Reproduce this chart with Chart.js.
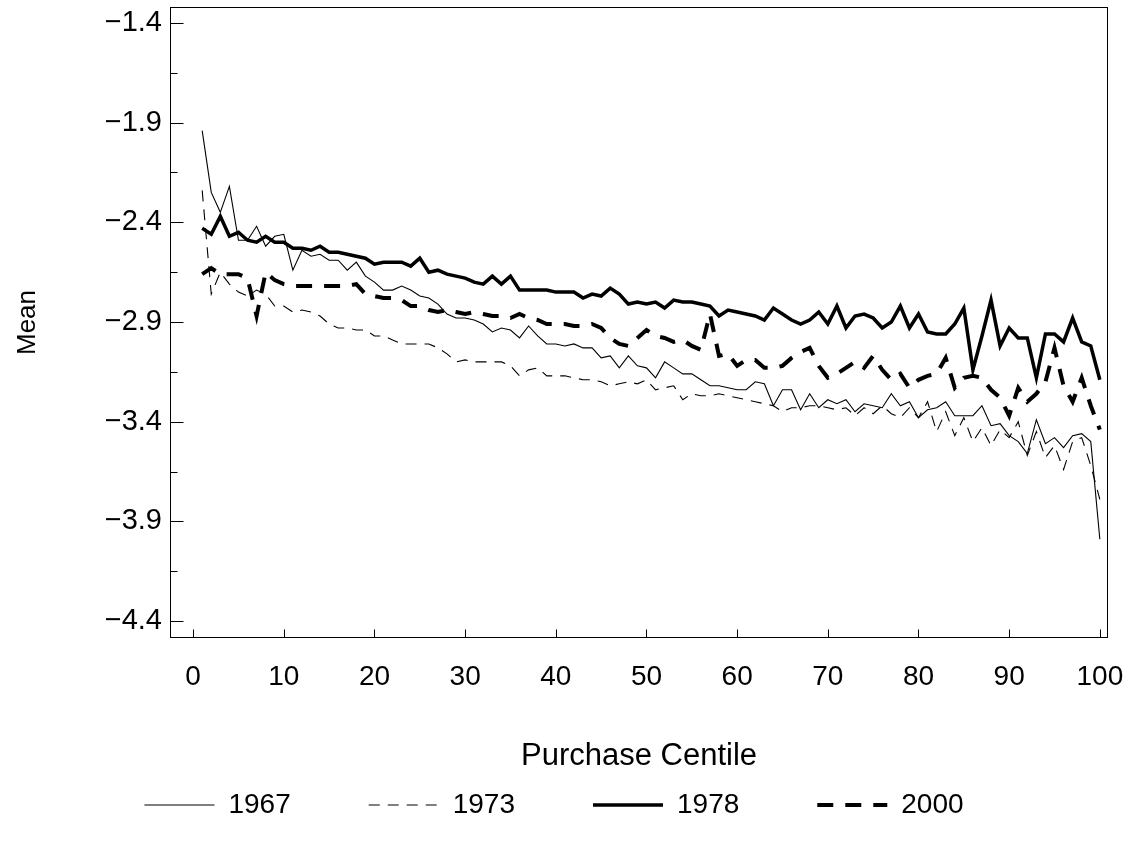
<!DOCTYPE html>
<html><head><meta charset="utf-8">
<script src="https://cdn.jsdelivr.net/npm/chart.js@4/dist/chart.umd.min.js"></script>
<style>html,body{margin:0;padding:0;background:#fff}#wrap{width:1130px;height:849px}</style>
</head><body><div id="wrap"><canvas id="c" width="1130" height="849"></canvas></div>
<script>
const centiles = [1,2,3,4,5,6,7,8,9,10,11,12,13,14,15,16,17,18,19,20,21,22,23,24,25,26,27,28,29,30,31,32,33,34,35,36,37,38,39,40,41,42,43,44,45,46,47,48,49,50,51,52,53,54,55,56,57,58,59,60,61,62,63,64,65,66,67,68,69,70,71,72,73,74,75,76,77,78,79,80,81,82,83,84,85,86,87,88,89,90,91,92,93,94,95,96,97,98,99,100];

const mean1967 = [-1.94,-2.25,-2.35,-2.22,-2.49,-2.49,-2.42,-2.52,-2.47,-2.46,
-2.64,-2.54,-2.57,-2.56,-2.59,-2.59,-2.64,-2.60,-2.67,-2.70,
-2.74,-2.74,-2.72,-2.74,-2.77,-2.78,-2.81,-2.86,-2.88,-2.88,
-2.89,-2.91,-2.95,-2.93,-2.94,-2.98,-2.92,-2.97,-3.01,-3.01,
-3.02,-3.01,-3.03,-3.03,-3.08,-3.07,-3.13,-3.07,-3.12,-3.13,
-3.18,-3.10,-3.13,-3.16,-3.16,-3.19,-3.22,-3.22,-3.23,-3.24,
-3.24,-3.20,-3.21,-3.32,-3.24,-3.24,-3.34,-3.26,-3.33,-3.29,
-3.31,-3.29,-3.35,-3.31,-3.32,-3.33,-3.26,-3.32,-3.30,-3.38,
-3.34,-3.33,-3.30,-3.37,-3.37,-3.37,-3.32,-3.42,-3.41,-3.47,
-3.50,-3.56,-3.39,-3.51,-3.48,-3.53,-3.47,-3.46,-3.50,-3.99];

const mean1973 = [-2.24,-2.76,-2.65,-2.71,-2.75,-2.77,-2.74,-2.76,-2.82,-2.82,
-2.85,-2.84,-2.85,-2.87,-2.91,-2.93,-2.93,-2.94,-2.94,-2.97,
-2.97,-2.99,-3.01,-3.01,-3.01,-3.01,-3.03,-3.06,-3.10,-3.09,
-3.10,-3.10,-3.10,-3.10,-3.12,-3.17,-3.14,-3.13,-3.17,-3.17,
-3.17,-3.18,-3.19,-3.19,-3.20,-3.22,-3.21,-3.20,-3.21,-3.19,
-3.24,-3.23,-3.22,-3.29,-3.26,-3.27,-3.27,-3.26,-3.27,-3.28,
-3.29,-3.30,-3.31,-3.32,-3.35,-3.33,-3.33,-3.32,-3.32,-3.33,
-3.34,-3.33,-3.37,-3.33,-3.36,-3.32,-3.36,-3.38,-3.33,-3.38,
-3.30,-3.45,-3.35,-3.47,-3.38,-3.50,-3.43,-3.52,-3.44,-3.48,
-3.40,-3.57,-3.45,-3.58,-3.52,-3.64,-3.50,-3.48,-3.62,-3.79];

const mean1978 = [-2.43,-2.46,-2.37,-2.47,-2.45,-2.49,-2.50,-2.47,-2.50,-2.50,
-2.53,-2.53,-2.54,-2.52,-2.55,-2.55,-2.56,-2.57,-2.58,-2.61,
-2.60,-2.60,-2.60,-2.62,-2.58,-2.65,-2.64,-2.66,-2.67,-2.68,
-2.70,-2.71,-2.67,-2.71,-2.67,-2.74,-2.74,-2.74,-2.74,-2.75,
-2.75,-2.75,-2.78,-2.76,-2.77,-2.73,-2.76,-2.81,-2.80,-2.81,
-2.80,-2.83,-2.79,-2.80,-2.80,-2.81,-2.82,-2.87,-2.84,-2.85,
-2.86,-2.87,-2.89,-2.83,-2.86,-2.89,-2.91,-2.89,-2.85,-2.91,
-2.82,-2.93,-2.87,-2.86,-2.88,-2.93,-2.90,-2.82,-2.93,-2.86,
-2.95,-2.96,-2.96,-2.91,-2.83,-3.14,-2.97,-2.79,-3.02,-2.93,
-2.98,-2.98,-3.18,-2.96,-2.96,-3.00,-2.88,-3.00,-3.02,-3.19];

const mean2000 = [-2.66,-2.63,-2.66,-2.66,-2.66,-2.68,-2.87,-2.65,-2.69,-2.71,
-2.72,-2.72,-2.72,-2.72,-2.72,-2.72,-2.72,-2.71,-2.76,-2.77,
-2.78,-2.78,-2.79,-2.82,-2.82,-2.84,-2.85,-2.84,-2.85,-2.86,
-2.85,-2.86,-2.87,-2.87,-2.88,-2.86,-2.88,-2.89,-2.91,-2.91,
-2.91,-2.92,-2.92,-2.91,-2.93,-2.98,-3.01,-3.02,-2.98,-2.94,
-2.97,-2.98,-3.00,-2.99,-3.02,-3.04,-2.86,-3.07,-3.06,-3.12,
-3.09,-3.09,-3.13,-3.13,-3.12,-3.08,-3.05,-3.03,-3.12,-3.18,
-3.16,-3.13,-3.10,-3.13,-3.07,-3.14,-3.19,-3.16,-3.23,-3.19,
-3.17,-3.16,-3.08,-3.23,-3.18,-3.17,-3.18,-3.24,-3.28,-3.37,
-3.23,-3.30,-3.26,-3.20,-3.03,-3.22,-3.30,-3.18,-3.32,-3.44];

const seriesNames = ['1967', '1973', '1978', '2000'];
const xTickValues = [0,10,20,30,40,50,60,70,80,90,100];
const yTickValues = [-4.4,-3.9,-3.4,-2.9,-2.4,-1.9,-1.4];
const yMinorTickValues = [-4.15,-3.65,-3.15,-2.65,-2.15,-1.65];

const FONT = "'Liberation Sans', Arial, Helvetica, sans-serif";
const pts = arr => centiles.map((c, i) => ({x: c, y: arr[i]}));

const styles = [
  {borderWidth: 1.1, borderDash: []},
  {borderWidth: 1.1, borderDash: [11, 8]},
  {borderWidth: 3.5, borderDash: []},
  {borderWidth: 4, borderDash: [16, 12]}
];
const seriesData = [mean1967, mean1973, mean1978, mean2000];

const frameAndTicks = {
  id: 'frameAndTicks',
  afterDatasetsDraw(chart) {
    const {ctx, chartArea: a, scales: {x, y}} = chart;
    ctx.save();
    ctx.strokeStyle = '#000';
    ctx.lineWidth = 1;
    ctx.setLineDash([]);
    const L = Math.round(a.left) + 0.5, R = Math.round(a.right) - 0.5;
    const T = Math.round(a.top) + 0.5, B = Math.round(a.bottom) - 0.5;
    ctx.strokeRect(L, T, R - L, B - T);
    ctx.beginPath();
    yTickValues.forEach(v => {
      const py = Math.round(y.getPixelForValue(v)) + 0.5;
      ctx.moveTo(L, py); ctx.lineTo(L + 13, py);
    });
    yMinorTickValues.forEach(v => {
      const py = Math.round(y.getPixelForValue(v)) + 0.5;
      ctx.moveTo(L, py); ctx.lineTo(L + 7, py);
    });
    xTickValues.forEach(v => {
      const px = Math.round(x.getPixelForValue(v)) + 0.5;
      ctx.moveTo(px, B); ctx.lineTo(px, B - 8);
    });
    ctx.stroke();
    ctx.restore();
  }
};

new Chart(document.getElementById('c'), {
  type: 'line',
  data: {
    datasets: seriesNames.map((name, i) => ({
      label: name,
      data: pts(seriesData[i]),
      borderColor: '#000',
      backgroundColor: '#000',
      borderWidth: styles[i].borderWidth,
      borderDash: styles[i].borderDash,
      pointRadius: 0,
      tension: 0,
      fill: false,
      borderJoinStyle: 'miter',
      borderCapStyle: 'butt'
    }))
  },
  options: {
    responsive: false,
    animation: false,
    devicePixelRatio: 1,
    layout: {padding: {left: 0, right: 22, top: 7, bottom: 20}},
    plugins: {
      tooltip: {enabled: false},
      legend: {
        position: 'bottom',
        align: 'center',
        labels: {
          usePointStyle: true,
          pointStyleWidth: 70,
          padding: 78,
          color: '#000',
          font: {family: FONT, size: 28},
          generateLabels(chart) {
            return chart.data.datasets.map((ds, i) => ({
              text: ds.label,
              fillStyle: '#000',
              strokeStyle: '#000',
              fontColor: '#000',
              lineWidth: ds.borderWidth,
              lineDash: ds.borderDash,
              lineCap: 'butt',
              pointStyle: 'line',
              hidden: false,
              datasetIndex: i
            }));
          }
        }
      }
    },
    scales: {
      x: {
        type: 'linear',
        min: -2.55,
        max: 100.9,
        afterBuildTicks: s => { s.ticks = xTickValues.map(v => ({value: v})); },
        afterFit: s => { s.height = 75; s.paddingLeft = 0; s.paddingRight = 0; },
        grid: {display: false, drawTicks: false},
        border: {display: false},
        ticks: {color: '#000', font: {family: FONT, size: 28}, padding: 22, maxRotation: 0, autoSkip: false},
        title: {display: true, text: 'Purchase Centile', color: '#000', font: {family: FONT, size: 31}, padding: {top: 0, bottom: -62}}
      },
      y: {
        type: 'linear',
        min: -4.485,
        max: -1.32,
        afterBuildTicks: s => { s.ticks = yTickValues.map(v => ({value: v})); },
        afterFit: s => { s.width = 170; s.paddingTop = 0; s.paddingBottom = 0; },
        grid: {display: false, drawTicks: false},
        border: {display: false},
        ticks: {color: '#000', font: {family: FONT, size: 29}, padding: 8,
          callback: v => '\u2212' + Math.abs(v).toFixed(1)},
        title: {display: true, text: 'Mean', color: '#000', font: {family: FONT, size: 26}, padding: {top: 12, bottom: 0}}
      }
    }
  },
  plugins: [frameAndTicks]
});
</script>
</body></html>
